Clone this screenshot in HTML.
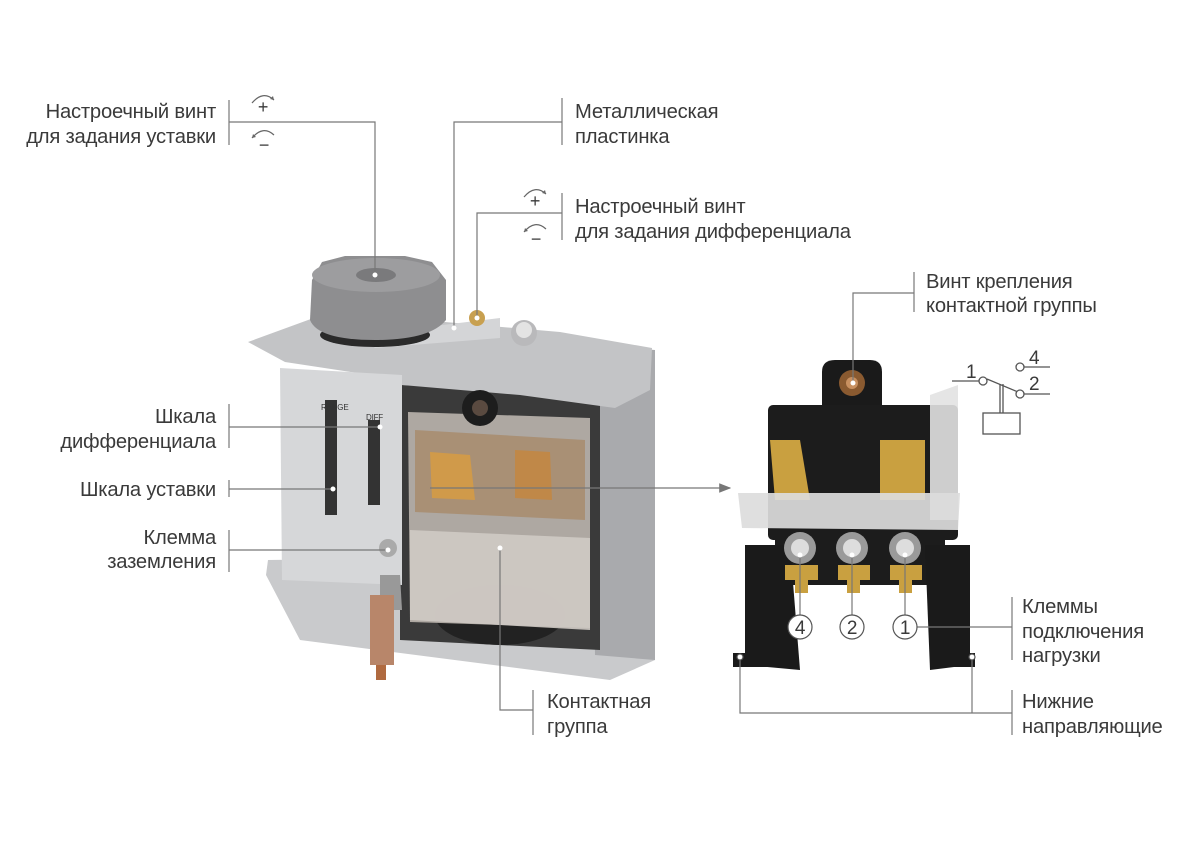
<!DOCTYPE html>
<html><head><meta charset="utf-8"><style>
html,body{margin:0;padding:0;background:#fff;}
svg{display:block}
text{font-family:"Liberation Sans",sans-serif;font-size:20.2px;fill:#3a3a3a;letter-spacing:-0.2px}
</style></head><body>
<svg width="1200" height="842" viewBox="0 0 1200 842" xmlns="http://www.w3.org/2000/svg">
<defs>
<marker id="ar" markerWidth="10" markerHeight="8" refX="9" refY="4" orient="auto"><path d="M0,0 L10,4 L0,8 Z" fill="#777"/></marker>
</defs>
<!-- LEFT DEVICE -->
<path d="M268,560 L655,555 L655,660 L610,680 L300,640 L266,575 Z" fill="#c9cacc"/>
<path d="M590,345 L655,350 L655,660 L595,655 Z" fill="#a9aaad"/>
<path d="M400,385 L600,390 L600,650 L400,640 Z" fill="#3a3a3a"/>
<ellipse cx="500" cy="615" rx="65" ry="30" fill="#222"/>
<path d="M408,412 L590,418 L590,628 L410,622 Z" fill="#b8b2ab" opacity="0.92"/>
<path d="M415,430 L585,440 L585,520 L415,512 Z" fill="#a88a6a" opacity="0.8"/>
<path d="M430,452 L470,455 L475,500 L432,498 Z" fill="#d09a4a"/>
<path d="M515,450 L550,452 L552,500 L515,498 Z" fill="#c08848"/>
<path d="M410,530 L590,538 L590,630 L410,620 Z" fill="#cfcac4" opacity="0.9"/>
<path d="M248,342 L330,312 L560,332 L652,348 L650,390 L615,408 L520,395 L402,385 L390,378 L285,362 Z" fill="#c3c4c6"/>
<path d="M360,335 L500,318 L500,338 L375,348 Z" fill="#d4d5d7"/>
<ellipse cx="375" cy="335" rx="55" ry="12" fill="#2a2a2a"/>
<path d="M312,280 L322,262 L345,256 L405,256 L432,262 L446,280 L446,320 Q430,340 375,340 Q318,340 310,320 Z" fill="#8e8e90"/>
<ellipse cx="376" cy="275" rx="64" ry="17" fill="#9d9d9f"/>
<ellipse cx="376" cy="275" rx="20" ry="7" fill="#7a7a7c"/>
<circle cx="477" cy="318" r="8" fill="#c8a050"/>
<circle cx="524" cy="333" r="13" fill="#b9b9bb"/><circle cx="524" cy="330" r="8" fill="#e3e3e3"/>
<circle cx="480" cy="408" r="18" fill="#1d1d1d"/><circle cx="480" cy="408" r="8" fill="#5a4a40"/>
<path d="M280,368 L402,375 L402,585 L282,580 Z" fill="#d6d7d9"/>
<rect x="325" y="400" width="12" height="115" fill="#333"/>
<rect x="368" y="420" width="12" height="85" fill="#333"/>
<text x="321" y="410" style="font-size:8px;fill:#333">RANGE</text>
<text x="366" y="420" style="font-size:8px;fill:#333">DIFF</text>
<circle cx="388" cy="548" r="9" fill="#aaa"/>
<path d="M380,575 L400,575 L402,610 L380,610 Z" fill="#999"/>
<rect x="370" y="595" width="24" height="70" fill="#b8866a"/>
<rect x="376" y="665" width="10" height="15" fill="#b06a40"/>
<!-- RIGHT DEVICE -->
<path d="M822,372 Q822,360 835,360 L870,360 Q882,360 882,372 L882,410 L822,410 Z" fill="#1a1a1a"/>
<circle cx="852" cy="383" r="13" fill="#8a5a30"/><circle cx="852" cy="383" r="6" fill="#c89060"/>
<rect x="768" y="405" width="190" height="135" rx="5" fill="#1c1c1c"/>
<path d="M770,440 L800,440 L810,500 L775,500 Z" fill="#c9a040"/>
<path d="M880,440 L925,440 L925,500 L880,500 Z" fill="#c9a040"/>
<path d="M930,395 L958,385 L958,520 L930,520 Z" fill="#e2e2e2" opacity="0.9"/>
<path d="M738,493 L960,493 L958,530 L742,528 Z" fill="#dcdcdc" opacity="0.92"/>
<path d="M775,530 L945,530 L945,585 L775,585 Z" fill="#1c1c1c"/>
<path d="M745,545 L790,545 L800,670 L745,665 Z" fill="#1a1a1a"/>
<path d="M925,545 L970,545 L970,665 L930,670 Z" fill="#1a1a1a"/>
<rect x="733" y="653" width="40" height="14" fill="#1a1a1a"/>
<rect x="930" y="653" width="45" height="14" fill="#1a1a1a"/>
<path d="M785,565 L818,565 L818,580 L808,580 L808,593 L795,593 L795,580 L785,580 Z" fill="#c9a040"/>
<path d="M838,565 L870,565 L870,580 L860,580 L860,593 L847,593 L847,580 L838,580 Z" fill="#c9a040"/>
<path d="M890,565 L922,565 L922,580 L912,580 L912,593 L899,593 L899,580 L890,580 Z" fill="#c9a040"/>
<circle cx="800" cy="548" r="16" fill="#9a9a9a"/><circle cx="800" cy="548" r="9" fill="#ddd"/>
<circle cx="852" cy="548" r="16" fill="#9a9a9a"/><circle cx="852" cy="548" r="9" fill="#ddd"/>
<circle cx="905" cy="548" r="16" fill="#9a9a9a"/><circle cx="905" cy="548" r="9" fill="#ddd"/>
<!-- CONNECTORS -->
<g stroke="#777" stroke-width="1.2" fill="none">
<line x1="229" y1="100" x2="229" y2="145"/>
<polyline points="229,122 375,122 375,275"/>
<line x1="562" y1="98" x2="562" y2="145"/>
<polyline points="562,122 454,122 454,328"/>
<line x1="562" y1="193" x2="562" y2="240"/>
<polyline points="562,213 477,213 477,318"/>
<line x1="229" y1="404" x2="229" y2="448"/>
<line x1="229" y1="427" x2="380" y2="427"/>
<line x1="229" y1="480" x2="229" y2="497"/>
<line x1="229" y1="489" x2="333" y2="489"/>
<line x1="229" y1="530" x2="229" y2="572"/>
<line x1="229" y1="550" x2="388" y2="550"/>
<line x1="533" y1="690" x2="533" y2="735"/>
<polyline points="533,710 500,710 500,548"/>
<line x1="430" y1="488" x2="730" y2="488" marker-end="url(#ar)"/>
<line x1="914" y1="272" x2="914" y2="312"/>
<polyline points="914,293 853,293 853,383"/>
<line x1="1012" y1="597" x2="1012" y2="660"/>
<line x1="1012" y1="627" x2="917" y2="627"/>
<line x1="800" y1="555" x2="800" y2="615"/>
<line x1="852" y1="555" x2="852" y2="615"/>
<line x1="905" y1="555" x2="905" y2="615"/>
<line x1="1012" y1="690" x2="1012" y2="735"/>
<polyline points="740,657 740,713 1012,713"/>
<line x1="972" y1="657" x2="972" y2="713"/>
</g>
<g fill="#fff" stroke="none">
<circle cx="375" cy="275" r="2.5"/><circle cx="454" cy="328" r="2.5"/><circle cx="477" cy="318" r="2.5"/>
<circle cx="380" cy="427" r="2.5"/><circle cx="333" cy="489" r="2.5"/><circle cx="388" cy="550" r="2.5"/>
<circle cx="500" cy="548" r="2.5"/><circle cx="853" cy="383" r="2.5"/>
<circle cx="800" cy="555" r="2.5"/><circle cx="852" cy="555" r="2.5"/><circle cx="905" cy="555" r="2.5"/>
</g>
<g fill="#fff" stroke="#555" stroke-width="1.2">
<circle cx="740" cy="657" r="3"/><circle cx="972" cy="657" r="3"/>
<circle cx="800" cy="627" r="12"/><circle cx="852" cy="627" r="12"/><circle cx="905" cy="627" r="12"/>
</g>
<text x="800" y="634" text-anchor="middle" style="font-size:19px">4</text>
<text x="852" y="634" text-anchor="middle" style="font-size:19px">2</text>
<text x="905" y="634" text-anchor="middle" style="font-size:19px">1</text>
<!-- rotate icons -->
<g stroke="#666" stroke-width="1.2" fill="none">
<path d="M252,103 Q263,90 274,100"/><path d="M252,138 Q263,125 274,135"/>
<path d="M524,197 Q535,184 546,194"/><path d="M524,232 Q535,219 546,229"/>
</g>
<path d="M274,100 l-4,-1 l3,-3 z M252,138 l1,-4 l3,3 z M546,194 l-4,-1 l3,-3 z M524,232 l1,-4 l3,3 z" fill="#666"/>
<text x="263" y="113" text-anchor="middle" style="font-size:18px">+</text>
<text x="264" y="151" text-anchor="middle" style="font-size:18px">−</text>
<text x="535" y="207" text-anchor="middle" style="font-size:18px">+</text>
<text x="536" y="245" text-anchor="middle" style="font-size:18px">−</text>
<!-- symbol -->
<g stroke="#555" stroke-width="1.3" fill="none">
<line x1="952" y1="381" x2="979" y2="381"/>
<circle cx="983" cy="381" r="4" fill="#fff"/>
<line x1="987" y1="379" x2="1018" y2="392"/>
<circle cx="1020" cy="367" r="4" fill="#fff"/><line x1="1024" y1="367" x2="1050" y2="367"/>
<circle cx="1020" cy="394" r="4" fill="#fff"/><line x1="1024" y1="394" x2="1050" y2="394"/>
<line x1="1000" y1="384" x2="1000" y2="413"/><line x1="1003" y1="384" x2="1003" y2="413"/>
<rect x="983" y="413" width="37" height="21"/>
</g>
<text x="966" y="378" style="font-size:19px">1</text>
<text x="1029" y="364" style="font-size:19px">4</text>
<text x="1029" y="390" style="font-size:19px">2</text>
<!-- LABELS -->
<text x="216" y="118" text-anchor="end">Настроечный винт</text>
<text x="216" y="143" text-anchor="end">для задания уставки</text>
<text x="575" y="118">Металлическая</text>
<text x="575" y="143">пластинка</text>
<text x="575" y="213">Настроечный винт</text>
<text x="575" y="238">для задания дифференциала</text>
<text x="216" y="423" text-anchor="end">Шкала</text>
<text x="216" y="448" text-anchor="end">дифференциала</text>
<text x="216" y="496" text-anchor="end">Шкала уставки</text>
<text x="216" y="544" text-anchor="end">Клемма</text>
<text x="216" y="568" text-anchor="end">заземления</text>
<text x="547" y="708">Контактная</text>
<text x="547" y="733">группа</text>
<text x="926" y="288">Винт крепления</text>
<text x="926" y="312">контактной группы</text>
<text x="1022" y="613">Клеммы</text>
<text x="1022" y="638">подключения</text>
<text x="1022" y="662">нагрузки</text>
<text x="1022" y="708">Нижние</text>
<text x="1022" y="733">направляющие</text>
</svg>
</body></html>
